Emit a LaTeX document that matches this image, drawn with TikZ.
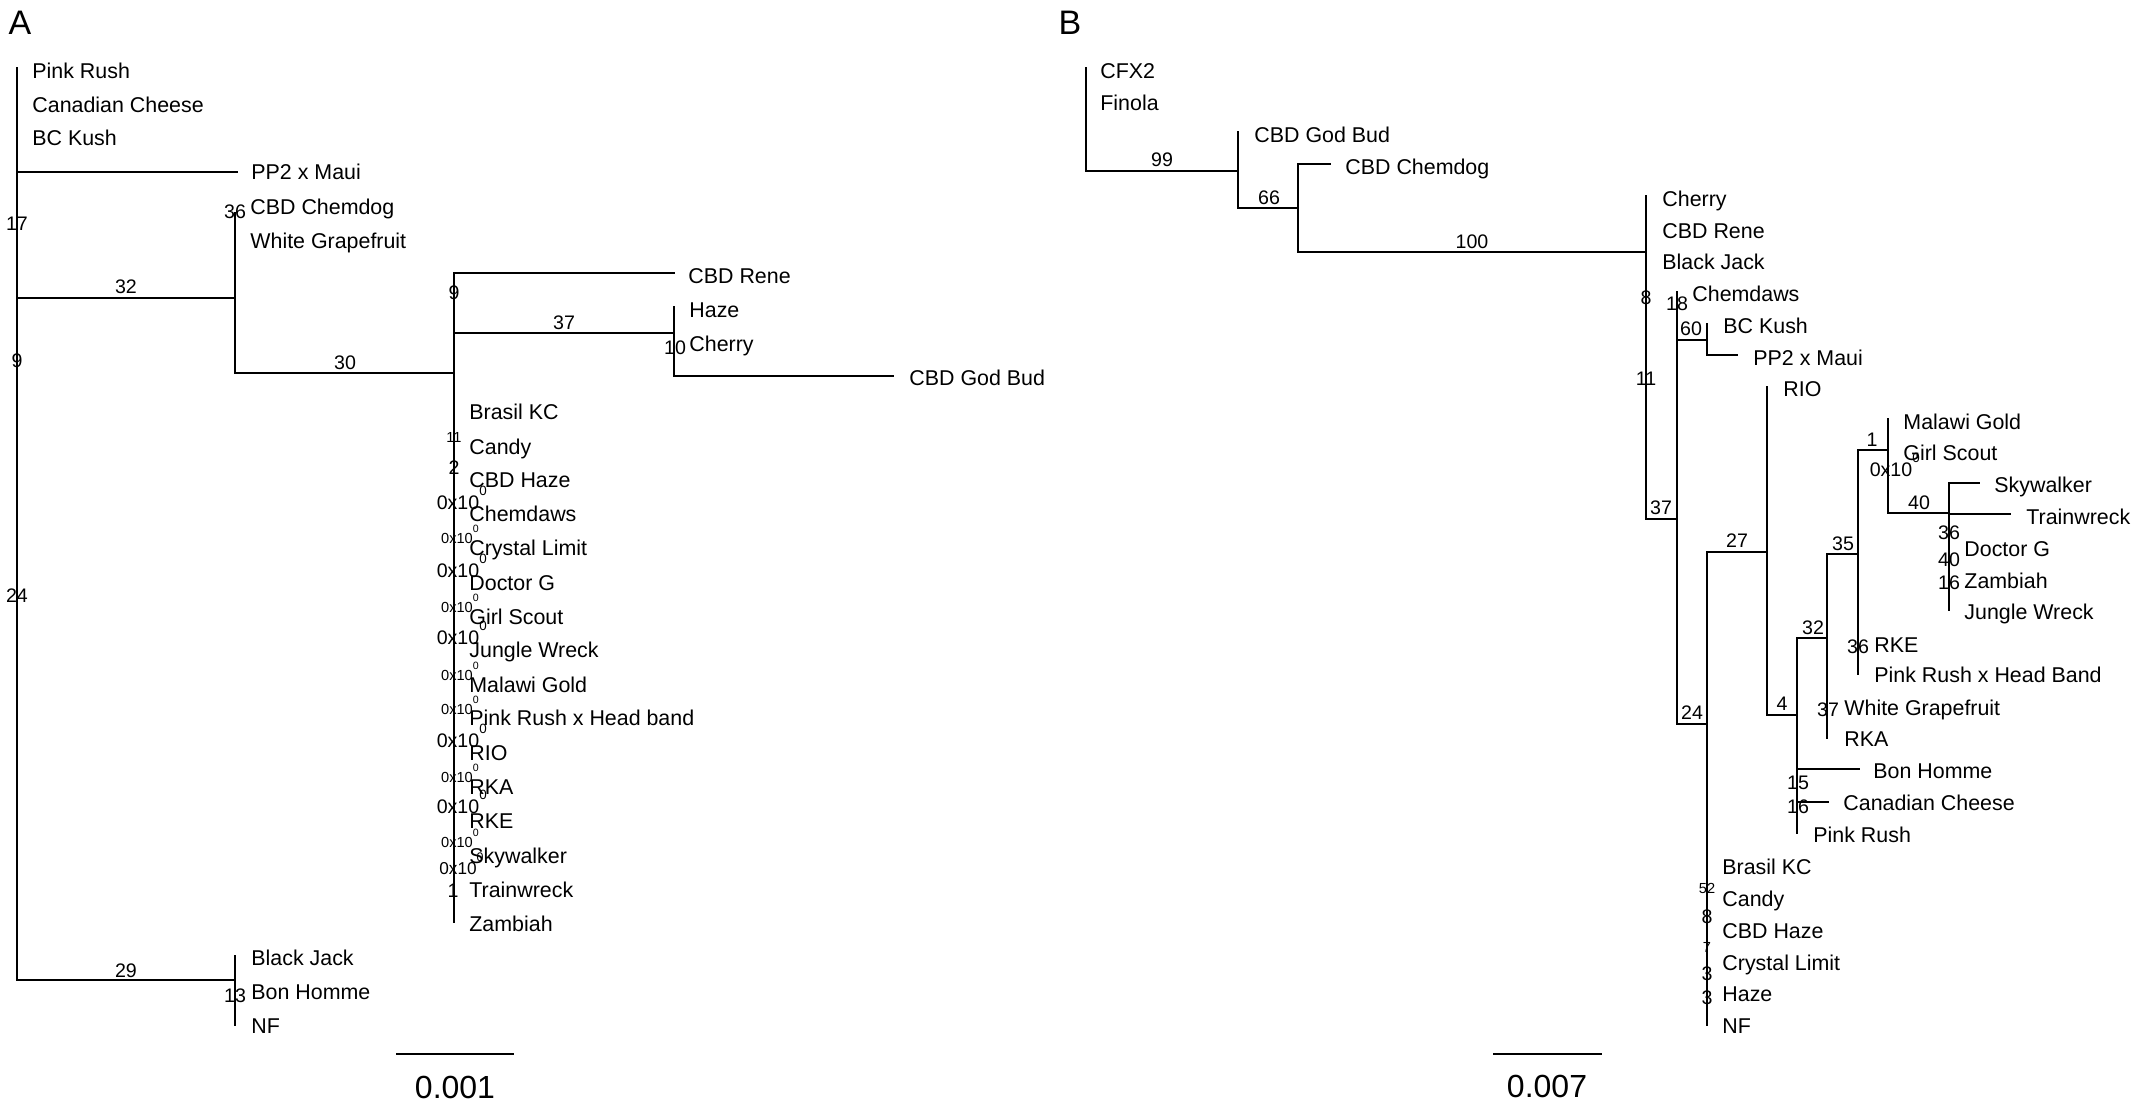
\documentclass[tikz,border=0pt]{standalone}
\usepackage{fontspec}
\setmainfont{Liberation Sans}
\begin{document}
\begin{tikzpicture}[x=0.5pt,y=-0.5pt,
  br/.style={line width=1.2pt,line cap=rect},
  leaf/.style={anchor=west,inner sep=0pt,font=\fontsize{10.7}{12}\selectfont,text height=7.65pt,text depth=0pt},
  bs/.style={anchor=center,inner sep=0pt,font=\fontsize{9.8}{11}\selectfont,text height=7pt,text depth=0pt},
  bss/.style={anchor=center,inner sep=0pt,font=\fontsize{7.3}{8}\selectfont,text height=5.2pt,text depth=0pt},
  bsm/.style={anchor=center,inner sep=0pt,font=\fontsize{8.6}{9}\selectfont,text height=6.1pt,text depth=0pt},
  panel/.style={anchor=center,inner sep=0pt,font=\fontsize{17}{19}\selectfont,text height=12.2pt,text depth=0pt},
  scl/.style={anchor=center,inner sep=0pt,font=\fontsize{16}{18}\selectfont,text height=11.5pt,text depth=0pt}]
\useasboundingbox (0,0) rectangle (2135,1103);
\newcommand{\supL}{\rlap{\raisebox{6.9pt}{\fontsize{6.7}{7}\selectfont 0}}}
\newcommand{\supS}{\rlap{\raisebox{5.2pt}{\fontsize{5.3}{6}\selectfont 0}}}
\newcommand{\supM}{\rlap{\raisebox{6.2pt}{\fontsize{6.2}{6}\selectfont 0}}}

% ================= Panel A =================
\node[panel] (pA) at (20,22) {A};
% branches
\draw[br] (17,68) -- (17,980);
\draw[br] (17,172) -- (237,172);
\draw[br] (17,298) -- (235,298);
\draw[br] (235,213) -- (235,373);
\draw[br] (235,373) -- (454,373);
\draw[br] (454,273) -- (454,922);
\draw[br] (454,273) -- (674,273);
\draw[br] (454,333) -- (674,333);
\draw[br] (674,307) -- (674,376);
\draw[br] (674,376) -- (893,376);
\draw[br] (17,980) -- (235,980);
\draw[br] (235,956) -- (235,1025);
% leaves
\node[leaf] (a1) at (32,71) {Pink Rush};
\node[leaf] (a2) at (32,105) {Canadian Cheese};
\node[leaf] (a3) at (32,138) {BC Kush};
\node[leaf] (a4) at (251,172) {PP2 x Maui};
\node[leaf] (a5) at (250,207) {CBD Chemdog};
\node[leaf] (a6) at (250,241) {White Grapefruit};
\node[leaf] (a7) at (688,276) {CBD Rene};
\node[leaf] (a8) at (689,310) {Haze};
\node[leaf] (a9) at (689,344) {Cherry};
\node[leaf] (a10) at (909,378) {CBD God Bud};
\node[leaf] (a11) at (469,412) {Brasil KC};
\node[leaf] (a12) at (469,447) {Candy};
\node[leaf] (a13) at (469,480) {CBD Haze};
\node[leaf] (a14) at (469,514) {Chemdaws};
\node[leaf] (a15) at (469,548) {Crystal Limit};
\node[leaf] (a16) at (469,583) {Doctor G};
\node[leaf] (a17) at (469,617) {Girl Scout};
\node[leaf] (a18) at (469,650) {Jungle Wreck};
\node[leaf] (a19) at (469,685) {Malawi Gold};
\node[leaf] (a20) at (469,718) {Pink Rush x Head band};
\node[leaf] (a21) at (469,753) {RIO};
\node[leaf] (a22) at (469,787) {RKA};
\node[leaf] (a23) at (469,821) {RKE};
\node[leaf] (a24) at (469,856) {Skywalker};
\node[leaf] (a25) at (469,890) {Trainwreck};
\node[leaf] (a26) at (469,924) {Zambiah};
\node[leaf] (a27) at (251,958) {Black Jack};
\node[leaf] (a28) at (251,992) {Bon Homme};
\node[leaf] (a29) at (251,1026) {NF};
% support values
\node[bs] (sa1) at (17,223) {17};
\node[bs] (sa2) at (17,360) {9};
\node[bs] (sa3) at (17,595) {24};
\node[bs] (sa4) at (126,286) {32};
\node[bs] (sa5) at (235,211) {36};
\node[bs] (sa6) at (345,362) {30};
\node[bs] (sa7) at (454,292) {9};
\node[bs] (sa8) at (564,322) {37};
\node[bs] (sa9) at (675,347) {10};
\node[bs] (sa10) at (126,970) {29};
\node[bs] (sa11) at (235,995) {13};
\node[bss] (sa12) at (454,437) {11};
\node[bs] (sa13) at (454,467) {2};
\node[bs] (z1) at (458,502) {0x10\supL};
\node[bss] (z2) at (457,538) {0x10\supS};
\node[bs] (z3) at (458,570) {0x10\supL};
\node[bss] (z4) at (457,607) {0x10\supS};
\node[bs] (z5) at (458,637) {0x10\supL};
\node[bss] (z6) at (457,675) {0x10\supS};
\node[bss] (z7) at (457,709) {0x10\supS};
\node[bs] (z8) at (458,740) {0x10\supL};
\node[bss] (z9) at (457,777) {0x10\supS};
\node[bs] (z10) at (458,806) {0x10\supL};
\node[bss] (z11) at (457,842) {0x10\supS};
\node[bsm] (z12) at (458,868) {0x10\supM};
\node[bs] (sa14) at (453,890) {1};
% scale bar
\coordinate (sbA1) at (396,1054);
\coordinate (sbA2) at (514,1054);
\draw[br,line cap=butt] (sbA1) -- (sbA2);
\node[scl] (sA) at (455,1087) {0.001};

% ================= Panel B =================
\node[panel] (pB) at (1070,22) {B};
\draw[br] (1086,68) -- (1086,171);
\draw[br] (1086,171) -- (1238,171);
\draw[br] (1238,132) -- (1238,208);
\draw[br] (1238,208) -- (1298,208);
\draw[br] (1298,164) -- (1298,252);
\draw[br] (1298,164) -- (1330,164);
\draw[br] (1298,252) -- (1646,252);
\draw[br] (1646,196) -- (1646,519);
\draw[br] (1646,519) -- (1677,519);
\draw[br] (1677,292) -- (1677,724);
\draw[br] (1677,340) -- (1707,340);
\draw[br] (1707,324) -- (1707,355);
\draw[br] (1707,355) -- (1737,355);
\draw[br] (1677,724) -- (1707,724);
\draw[br] (1707,552) -- (1707,1025);
\draw[br] (1707,552) -- (1767,552);
\draw[br] (1767,387) -- (1767,715);
\draw[br] (1767,715) -- (1797,715);
\draw[br] (1797,638) -- (1797,833);
\draw[br] (1797,638) -- (1827,638);
\draw[br] (1797,769) -- (1859,769);
\draw[br] (1797,802) -- (1828,802);
\draw[br] (1827,554) -- (1827,738);
\draw[br] (1827,554) -- (1858,554);
\draw[br] (1858,450) -- (1858,674);
\draw[br] (1858,450) -- (1888,450);
\draw[br] (1888,419) -- (1888,513);
\draw[br] (1888,513) -- (1949,513);
\draw[br] (1949,483) -- (1949,610);
\draw[br] (1949,483) -- (1979,483);
\draw[br] (1949,514) -- (2010,514);
% leaves
\node[leaf] (b1) at (1100,71) {CFX2};
\node[leaf] (b2) at (1100,103) {Finola};
\node[leaf] (b3) at (1254,135) {CBD God Bud};
\node[leaf] (b4) at (1345,167) {CBD Chemdog};
\node[leaf] (b5) at (1662,199) {Cherry};
\node[leaf] (b6) at (1662,231) {CBD Rene};
\node[leaf] (b7) at (1662,262) {Black Jack};
\node[leaf] (b8) at (1692,294) {Chemdaws};
\node[leaf] (b9) at (1723,326) {BC Kush};
\node[leaf] (b10) at (1753,358) {PP2 x Maui};
\node[leaf] (b11) at (1783,389) {RIO};
\node[leaf] (b12) at (1903,422) {Malawi Gold};
\node[leaf] (b13) at (1903,453) {Girl Scout};
\node[leaf] (b14) at (1994,485) {Skywalker};
\node[leaf] (b15) at (2026,517) {Trainwreck};
\node[leaf] (b16) at (1964,549) {Doctor G};
\node[leaf] (b17) at (1964,581) {Zambiah};
\node[leaf] (b18) at (1964,612) {Jungle Wreck};
\node[leaf] (b19) at (1874,645) {RKE};
\node[leaf] (b20) at (1874,675) {Pink Rush x Head Band};
\node[leaf] (b21) at (1844,708) {White Grapefruit};
\node[leaf] (b22) at (1844,739) {RKA};
\node[leaf] (b23) at (1873,771) {Bon Homme};
\node[leaf] (b24) at (1843,803) {Canadian Cheese};
\node[leaf] (b25) at (1813,835) {Pink Rush};
\node[leaf] (b26) at (1722,867) {Brasil KC};
\node[leaf] (b27) at (1722,899) {Candy};
\node[leaf] (b28) at (1722,931) {CBD Haze};
\node[leaf] (b29) at (1722,963) {Crystal Limit};
\node[leaf] (b30) at (1722,994) {Haze};
\node[leaf] (b31) at (1722,1026) {NF};
% support values
\node[bs] (sb1) at (1162,159) {99};
\node[bs] (sb2) at (1269,197) {66};
\node[bs] (sb3) at (1472,241) {100};
\node[bs] (sb4) at (1646,297) {8};
\node[bs] (sb5) at (1677,303) {18};
\node[bs] (sb6) at (1691,328) {60};
\node[bs] (sb7) at (1646,378) {11};
\node[bs] (sb8) at (1661,507) {37};
\node[bs] (sb9) at (1737,540) {27};
\node[bs] (sb10) at (1692,712) {24};
\node[bs] (sb11) at (1782,703) {4};
\node[bs] (sb12) at (1813,627) {32};
\node[bs] (sb13) at (1843,543) {35};
\node[bs] (sb14) at (1872,439) {1};
\node[bs] (sb15) at (1891,469) {0x10\supL};
\node[bs] (sb16) at (1919,502) {40};
\node[bs] (sb17) at (1949,532) {36};
\node[bs] (sb18) at (1949,559) {40};
\node[bs] (sb19) at (1949,582) {16};
\node[bs] (sb20) at (1858,646) {36};
\node[bs] (sb21) at (1828,709) {37};
\node[bs] (sb22) at (1798,782) {15};
\node[bs] (sb23) at (1798,806) {16};
\node[bss] (sb24) at (1707,888) {52};
\node[bs] (sb25) at (1707,916) {8};
\node[bss] (sb26) at (1707,947) {7};
\node[bs] (sb27) at (1707,973) {3};
\node[bs] (sb28) at (1707,997) {3};
% scale bar
\coordinate (sbB1) at (1493,1054);
\coordinate (sbB2) at (1602,1054);
\draw[br,line cap=butt] (sbB1) -- (sbB2);
\node[scl] (sB) at (1547,1086) {0.007};
\end{tikzpicture}
\end{document}
